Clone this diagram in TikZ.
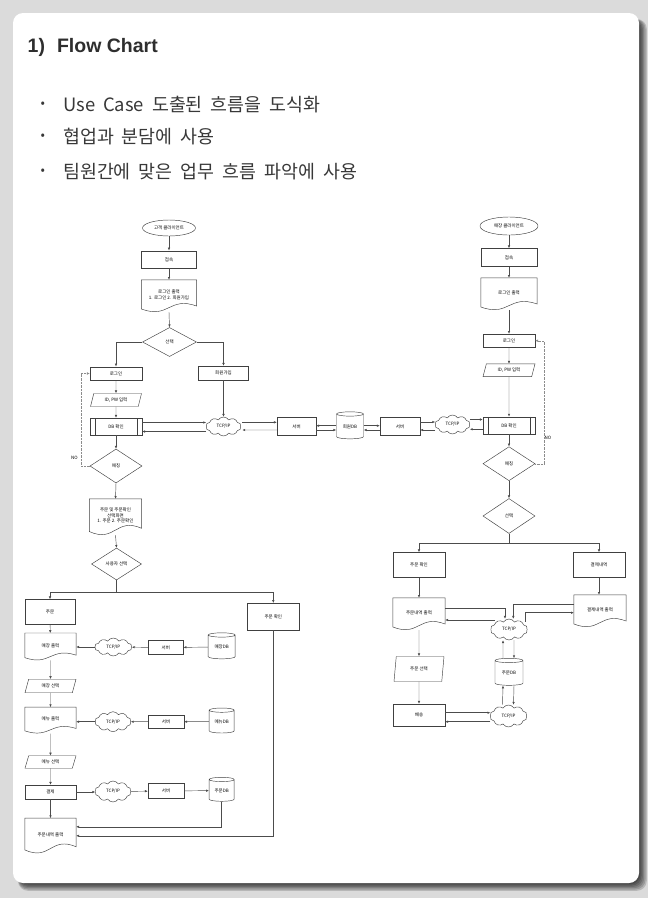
\documentclass[tikz,border=0pt]{standalone}
\usepackage{fontspec}
\setmainfont{Noto Sans CJK KR}
\newfontfamily\ttlfont{Liberation Sans}
\usetikzlibrary{shapes.geometric,shapes.symbols,arrows.meta,calc}
\newcommand\dfont{\fontsize{4.5pt}{5.5pt}\selectfont}
\newcommand\hfont{\fontsize{18.4pt}{21pt}\selectfont\spaceskip=8pt plus 0pt minus 0pt\relax}
\newcommand\docpath[1]{%
  \draw[shp] let \p1=(#1.north west), \p2=(#1.south east), \n1={\x2-\x1}, \n2={\y1-\y2} in
  (\x1,\y1) -- (\x2,\y1) -- (\x2,{\y2+0.19*\n2})
  .. controls ({\x1+0.5*\n1},{\y2+0.5*\n2}) and ({\x1+0.5*\n1},{\y2-0.22*\n2}) .. (\x1,{\y2+0.1*\n2}) -- cycle;}
\begin{document}
\begin{tikzpicture}[x=1pt,y=-1pt,
  shp/.style={draw=black!75, line width=0.45pt},
  sz/.style 2 args={minimum width=#1pt, minimum height=#2pt},
  box/.style={shp, rectangle, inner sep=0pt, align=center, font=\dfont, fill=white},
  term/.style={box, ellipse},
  dec/.style={box, diamond},
  io/.style={box, trapezium, trapezium left angle=70, trapezium right angle=110, trapezium stretches=true},
  sub/.style={box, path picture={
      \draw[shp] ([xshift=5pt]path picture bounding box.north west) -- ([xshift=5pt]path picture bounding box.south west);
      \draw[shp] ([xshift=-5pt]path picture bounding box.north east) -- ([xshift=-5pt]path picture bounding box.south east);}},
  doc/.style={rectangle, inner sep=0pt, align=center, font=\dfont, text depth=3pt},
  cld/.style={box, cloud, cloud puffs=10, cloud puff arc=115, aspect=1.8},
  db/.style={box, cylinder, shape border rotate=90, aspect=0.3},
  lnk/.style={draw=black!70, line width=0.45pt},
  arr/.style={lnk, -{Latex[length=2.8pt,width=2.4pt]}},
  nol/.style={draw=black!45, line width=0.4pt, densely dotted, -{Latex[length=2.8pt,width=2.4pt]}},
  hdr/.style={anchor=west, inner sep=0pt, text=black!78, font=\hfont}
]
\useasboundingbox (0,0) rectangle (648,898);
\fill[black!14] (0,0) rectangle (648,898);
\foreach \k in {1,...,6}
  \fill[black, opacity=0.16, rounded corners=10pt] (18,19) rectangle ({639+\k*1.3},{883+\k*1.3});
\fill[white, rounded corners=10pt] (13,13) rectangle (639,883);

% header
\node[anchor=west, inner sep=0pt, text=black!82, font=\ttlfont\bfseries\fontsize{19.5pt}{22pt}\selectfont] (ttl) at (27.5,47) {1)\hspace{12pt}Flow Chart};
\node[hdr, font=\fontsize{13pt}{16pt}\selectfont] (d1) at (40.5,105) {•};
\node[hdr] (t1) at (63,105) {Use Case 도출된 흐름을 도식화};
\node[hdr, font=\fontsize{13pt}{16pt}\selectfont] (d2) at (40.5,137) {•};
\node[hdr] (t2) at (63,137) {협업과 분담에 사용};
\node[hdr, font=\fontsize{13pt}{16pt}\selectfont] (d3) at (40.5,172) {•};
\node[hdr] (t3) at (63,172) {팀원간에 맞은 업무 흐름 파악에 사용};

% ---------- left (customer) ----------
\node[term, sz={53}{16}] (c1) at (169,228) {고객 클라이언트};
\node[box, sz={55}{17.5}] (c2) at (169,259.5) {접속};
\node[doc, sz={55}{32}] (c3) at (169,296) {로그인 출력\\1. 로그인 2. 회원가입};
\docpath{c3}
\node[dec, sz={54}{29}] (c4) at (169.5,342) {선택};
\node[box, sz={52}{13.5}] (c5) at (116,373.5) {로그인};
\node[box, sz={50}{14}] (c6) at (223.5,373) {회원가입};
\node[io, sz={51}{13}] (c7) at (116,400) {ID, PW 입력};
\node[sub, sz={52}{17}] (c8) at (116,426.5) {DB 확인};
\node[cld, sz={35}{19}] (c9) at (223.5,426.5) {TCP/IP};
\node[box, sz={39}{18}] (c10) at (296.5,426.5) {서버};
\node[db, sz={27}{27}] (db1) at (350,426.5) {회원DB};
\node[box, sz={40}{18}] (c11) at (400,426.5) {서버};
\node[cld, sz={35}{19}] (c12) at (452.5,424.5) {TCP/IP};
\node[dec, sz={52}{34}] (c13) at (116,466) {매칭};
\node[font=\dfont, inner sep=0pt] (no1) at (74.5,457.5) {NO};
\node[doc, sz={52}{36}] (c14) at (115.5,517) {주문 및 주문확인\\선택화면\\1. 주문 2. 주문확인};
\docpath{c14}
\node[dec, sz={50}{32}] (c15) at (116.5,564) {사용자 선택};
\coordinate (j1) at (116.5,592.7);
\node[box, sz={50}{25}] (c16) at (50,612) {주문};
\node[box, sz={52}{27}] (c17) at (273.3,616.7) {주문 확인};
\node[doc, sz={51}{27}] (c18) at (50.5,646.7) {매장 출력};
\docpath{c18}
\node[cld, sz={37}{18}] (c19) at (113.3,647) {TCP/IP};
\node[box, sz={35}{14}] (c20) at (165.8,647.5) {서버};
\node[db, sz={27}{26}] (db2) at (221.7,647) {매장DB};
\node[io, sz={51}{13.5}] (c21) at (50.5,686) {매장 선택};
\node[doc, sz={51}{26}] (c22) at (50.5,720.3) {메뉴 출력};
\docpath{c22}
\node[cld, sz={36}{20}] (c23) at (113,721.7) {TCP/IP};
\node[box, sz={36}{13.5}] (c24) at (166,721.7) {서버};
\node[db, sz={25}{25}] (db3) at (221.7,721.7) {메뉴DB};
\node[io, sz={51}{12.5}] (c25) at (50.5,762) {메뉴 선택};
\node[box, sz={51}{14}] (c26) at (50.5,792) {결제};
\node[cld, sz={36}{21}] (c27) at (113,791.5) {TCP/IP};
\node[box, sz={36}{15}] (c28) at (166,791) {서버};
\node[db, sz={25}{24}] (db4) at (221.7,790.5) {주문DB};
\node[doc, sz={51}{35}] (c29) at (50.5,835.8) {주문내역 출력};
\docpath{c29}

% ---------- right (store) ----------
\node[term, sz={58}{18}] (r1) at (509,226) {매장 클라이언트};
\node[box, sz={56}{18}] (r2) at (509,257.5) {접속};
\node[doc, sz={56}{32}] (r3) at (509,294) {로그인 출력};
\docpath{r3}
\node[box, sz={52}{13.3}] (r4) at (509,340.7) {로그인};
\node[io, sz={52}{12.7}] (r5) at (509,370.3) {ID, PW 입력};
\node[sub, sz={52}{17}] (r6) at (509,425.3) {DB 확인};
\node[dec, sz={52}{34}] (r7) at (509,463.7) {매칭};
\node[font=\dfont, inner sep=0pt] (no2) at (548,437.5) {NO};
\node[dec, sz={52}{35}] (r8) at (509,516) {선택};
\coordinate (j2) at (509,543.3);
\node[box, sz={52}{25}] (r9) at (419,565) {주문 확인};
\node[box, sz={52}{25}] (r10) at (599,565) {결제내역};
\node[doc, sz={52}{32}] (r11) at (419,614) {주문내역 출력};
\docpath{r11}
\node[doc, sz={52}{32}] (r12) at (600,611) {결제내역 출력};
\docpath{r12}
\node[cld, sz={37}{21}] (r13) at (509,629.5) {TCP/IP};
\node[db, sz={28}{27}] (db5) at (509,673) {주문DB};
\node[io, sz={50}{25}, trapezium left angle=78, trapezium right angle=102] (r14) at (419,669) {주문 선택};
\node[box, sz={52}{22}] (r15) at (419,715) {배송};
\node[cld, sz={37}{22}] (r16) at (508.5,716) {TCP/IP};

% ---------- connectors left ----------
\draw[arr] (c1) -- (c2);
\draw[arr] (c2) -- (c3);
\draw[arr] (c3.south) -- (c4.north);
\draw[arr] (c4.west) -| (c5.north);
\draw[arr] (c4.east) -| (c6.north);
\draw[arr] (c5) -- (c7);
\draw[arr] (c7) -- (c8);
\draw[arr] (c6.south) -- (c9.north);
\draw[arr] ($(c8.east)+(0,-4)$) coordinate (p1) -- (p1 -| c9.west);
\draw[arr] ($(c9.west)+(0,5)$) coordinate (p2) -- (p2 -| c8.east);
\draw[arr] ($(c9.east)+(1.5,-4.2)$) coordinate (p3) -- (p3 -| c10.west);
\draw[arr] ($(c10.west)+(0,3.5)$) coordinate (p4) -- ($(c9.east)+(1.5,3.5)$);
\draw[arr] ($(db1.west)+(0,-0.8)$) coordinate (p5) -- (p5 -| c10.east);
\draw[arr] ($(c10.east)+(0,3.5)$) coordinate (p6) -- (p6 -| db1.west);
\draw[arr] ($(db1.east)+(0,-0.8)$) coordinate (p7) -- (p7 -| c11.west);
\draw[arr] ($(c11.west)+(0,3.5)$) coordinate (p8) -- (p8 -| db1.east);
\draw[arr] ($(c11.east)+(0,-4.5)$) coordinate (p9) -- (p9 -| c12.west);
\draw[arr] ($(c12.west)+(0,5.5)$) coordinate (p10) -- (p10 -| c11.east);
\draw[arr] ($(c12.east)+(0,-5)$) coordinate (p11) -- (p11 -| r6.west);
\draw[arr] ($(r6.west)+(0,4)$) coordinate (p12) -- (p12 -| c12.east);
\draw[arr] (c8) -- (c13);
\draw[nol] (c13.west) -- ++(-8.5,0) |- (c5.west);
\draw[arr] (c13.south) -- (c14.north);
\draw[arr] (c14.south) -- (c15.north);
\draw[lnk] (c15.south) -- (j1);
\draw[arr] (j1) -| (c16.north);
\draw[arr] (j1) -| (c17.north);
\draw[arr] (c16) -- (c18);
\draw[arr] (db2) -- (c20);
\draw[arr] (c20) -- (c19);
\draw[arr] (c19.west) -- (c19.west -| c18.east);
\draw[arr] (c18.south) -- (c21.north);
\draw[arr] (c21) -- (c22);
\draw[arr] (db3) -- (c24);
\draw[arr] (c24) -- (c23);
\draw[arr] (c23.west) -- (c23.west -| c22.east);
\draw[arr] (c22.south) -- (c25.north);
\draw[arr] (c25) -- (c26);
\draw[arr] (c26.east) -- (c26.east -| c27.west);
\draw[arr] (c27) -- (c28);
\draw[arr] (c28) -- (db4);
\draw[arr] (c26) -- (c29);
\draw[arr] (db4.south) |- ($(c29.east)+(0,-9)$);
\draw[arr] (c17.south) |- (c29.east);

% ---------- connectors right ----------
\draw[arr] (r1) -- (r2);
\draw[arr] (r2) -- (r3);
\draw[arr] (r3.south) -- (r4.north);
\draw[arr] (r4) -- (r5);
\draw[arr] (r5) -- (r6);
\draw[arr] (r6) -- (r7);
\draw[nol] (r7.east) -- ++(8.5,0) |- (r4.east);
\draw[arr] (r7) -- (r8);
\draw[lnk] (r8.south) -- (j2);
\draw[arr] (j2) -| (r9.north);
\draw[arr] (j2) -| (r10.north);
\draw[arr] (r9) -- (r11);
\draw[arr] (r10.south) -- (r10.south |- r12.north);
\draw[arr] ($(r11.east)+(0,-5.7)$) -| ($(r13.north)+(-4,0)$);
\draw[arr] ($(r13.center)+(-14,-9.5)$) coordinate (q1) -- (q1 -| r11.east);
\draw[arr] ($(r12.west)+(0,-7)$) -| ($(r13.north)+(4.3,0)$);
\draw[arr] ($(r13.center)+(16,-8)$) |- ($(r12.west)+(0,1.7)$);
\draw[arr] ($(db5.north)+(-6,0)$) -- ($(r13.south)+(-6,0)$);
\draw[arr] ($(r13.south)+(5,0)$) -- ($(db5.north)+(5,0)$);
\draw[arr] ($(r16.north)+(-6,0)$) -- ($(db5.south)+(-6,0)$);
\draw[arr] ($(db5.south)+(5,0)$) -- ($(r16.north)+(5,0)$);
\draw[arr] (r11.south) -- (r14.north);
\draw[arr] (r14) -- (r15);
\draw[arr] ($(r15.east)+(0,-2.3)$) coordinate (q2) -- (q2 -| r16.west);
\draw[arr] ($(r16.west)+(0,5.7)$) coordinate (q3) -- (q3 -| r15.east);
\end{tikzpicture}
\end{document}
